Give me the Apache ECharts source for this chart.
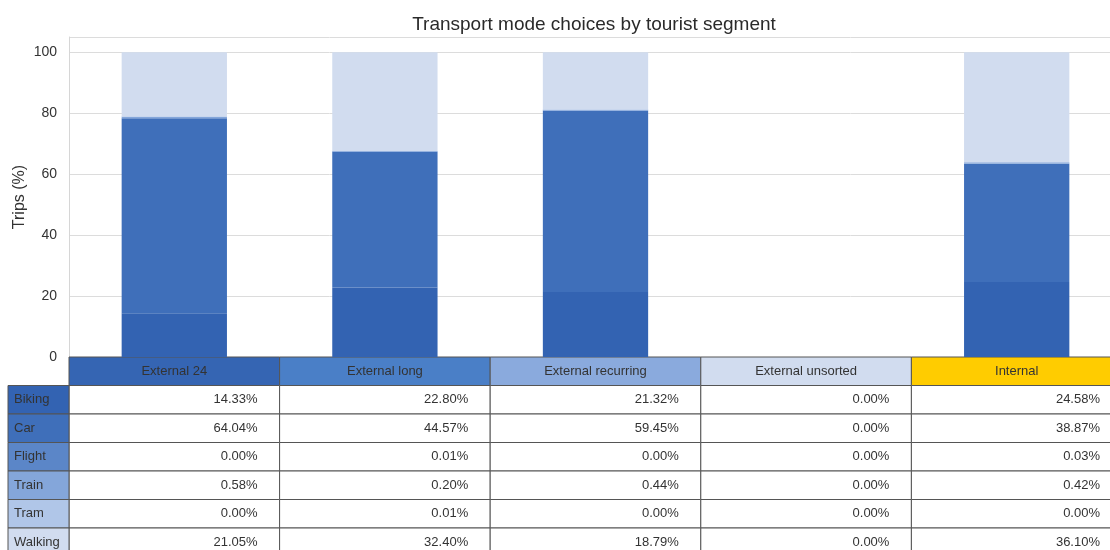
<!DOCTYPE html>
<html>
<head>
<meta charset="utf-8">
<script src="https://cdn.jsdelivr.net/npm/echarts@6/dist/echarts.min.js"></script>
<style>html,body{margin:0;padding:0;background:#fff;}#chart{width:1110px;height:550px;}</style>
</head>
<body>
<div id="chart"></div>
<script>
// ---- data ----
var segments = ['External 24', 'External long', 'External recurring', 'External unsorted', 'Internal'];
var modes = ['Biking', 'Car', 'Flight', 'Train', 'Tram', 'Walking'];
var biking  = [14.33, 22.80, 21.32, 0.00, 24.58];
var car     = [64.04, 44.57, 59.45, 0.00, 38.87];
var flight  = [0.00, 0.01, 0.00, 0.00, 0.03];
var train   = [0.58, 0.20, 0.44, 0.00, 0.42];
var tram    = [0.00, 0.01, 0.00, 0.00, 0.00];
var walking = [21.05, 32.40, 18.79, 0.00, 36.10];
var yTicks = [0, 20, 40, 60, 80, 100];

// ---- styles ----
var modeColors = ['#3363b2', '#3f6fba', '#5b86c8', '#84a6da', '#b0c6e8', '#d1dcef'];
var headerColors = ['#3565b3', '#4a7fc7', '#8aaadd', '#d1dcef', '#ffcc00'];
var FONT = '"Liberation Sans", Arial, sans-serif';
var TEXT = '#333333';
var EDGE = '#555555';

var seriesValues = [biking, car, flight, train, tram, walking];
var rows = ['header'].concat(modes);

var barSeries = modes.map(function (m, i) {
  return {
    name: m, type: 'bar', stack: 'total', barWidth: '50%',
    xAxisIndex: 0, yAxisIndex: 0,
    itemStyle: { color: modeColors[i] },
    data: seriesValues[i]
  };
});

// table cells: [colIndex, rowIndex]
var tableCells = [];
for (var c = 0; c < segments.length; c++) {
  for (var r = 0; r < rows.length; r++) tableCells.push([c, r]);
}
var labelCells = [];
for (var r2 = 1; r2 < rows.length; r2++) labelCells.push([0, r2]);

function cellRect(api, x, y) {
  var pt = api.coord([x, y]);
  var sz = api.size([1, 1]);
  return { x: pt[0] - sz[0] / 2, y: pt[1] - sz[1] / 2, w: sz[0], h: sz[1] };
}

var option = {
  animation: false,
  backgroundColor: '#ffffff',
  title: {
    text: 'Transport mode choices by tourist segment',
    left: 589, top: 10, textAlign: 'center',
    textStyle: { fontFamily: FONT, fontSize: 19, fontWeight: 'normal', color: '#2a2a2a' }
  },
  grid: [
    { left: 69, width: 1053, top: 37, height: 320, outerBoundsMode: 'none', containLabel: false },
    { left: 69, width: 1053, top: 357, height: 199.5, outerBoundsMode: 'none', containLabel: false },
    { left: 8, width: 61, top: 357, height: 199.5, outerBoundsMode: 'none', containLabel: false }
  ],
  xAxis: [
    { gridIndex: 0, type: 'category', data: segments,
      axisLine: { show: false }, axisTick: { show: false }, axisLabel: { show: false } },
    { gridIndex: 1, type: 'category', data: segments, show: false },
    { gridIndex: 2, type: 'category', data: ['label'], show: false }
  ],
  yAxis: [
    { gridIndex: 0, type: 'value', min: yTicks[0], max: 105, interval: yTicks[1] - yTicks[0],
      name: 'Trips (%)', nameLocation: 'middle', nameGap: 41, nameMoveOverlap: false,
      nameTextStyle: { fontFamily: FONT, fontSize: 16, color: TEXT },
      axisLine: { show: true, lineStyle: { color: '#d6d6d6' } },
      axisTick: { show: false },
      axisLabel: { showMaxLabel: false, margin: 12, fontFamily: FONT, fontSize: 14, color: TEXT },
      splitLine: { show: true, lineStyle: { color: '#dcdcdc', width: 1 } } },
    { gridIndex: 1, type: 'category', data: rows, inverse: true, show: false },
    { gridIndex: 2, type: 'category', data: rows, inverse: true, show: false }
  ],
  series: barSeries.concat([
    {
      type: 'custom', xAxisIndex: 1, yAxisIndex: 1, clip: false,
      data: tableCells,
      renderItem: function (params, api) {
        var c = api.value(0), r = api.value(1);
        var b = cellRect(api, c, r);
        var isHeader = r === 0;
        var txt, align, tx;
        if (isHeader) {
          txt = segments[c]; align = 'center'; tx = b.x + b.w / 2;
        } else {
          txt = seriesValues[r - 1][c].toFixed(2) + '%'; align = 'right'; tx = b.x + b.w - 22;
        }
        return {
          type: 'group',
          children: [
            { type: 'rect', shape: { x: b.x, y: b.y, width: b.w, height: b.h },
              style: { fill: isHeader ? headerColors[c] : '#ffffff', stroke: EDGE, lineWidth: 1 } },
            { type: 'text', style: { x: tx, y: b.y + b.h / 2, text: txt, textAlign: align,
              textVerticalAlign: 'middle', fill: TEXT, font: '13px ' + FONT } }
          ]
        };
      }
    },
    {
      type: 'custom', xAxisIndex: 2, yAxisIndex: 2, clip: false,
      data: labelCells,
      renderItem: function (params, api) {
        var r = api.value(1);
        var b = cellRect(api, 0, r);
        return {
          type: 'group',
          children: [
            { type: 'rect', shape: { x: b.x, y: b.y, width: b.w, height: b.h },
              style: { fill: modeColors[r - 1], stroke: EDGE, lineWidth: 1 } },
            { type: 'text', style: { x: b.x + 6, y: b.y + b.h / 2, text: modes[r - 1], textAlign: 'left',
              textVerticalAlign: 'middle', fill: TEXT, font: '13px ' + FONT } }
          ]
        };
      }
    }
  ])
};

var chart = echarts.init(document.getElementById('chart'), null, { renderer: 'canvas' });
chart.setOption(option);
</script>
</body>
</html>
